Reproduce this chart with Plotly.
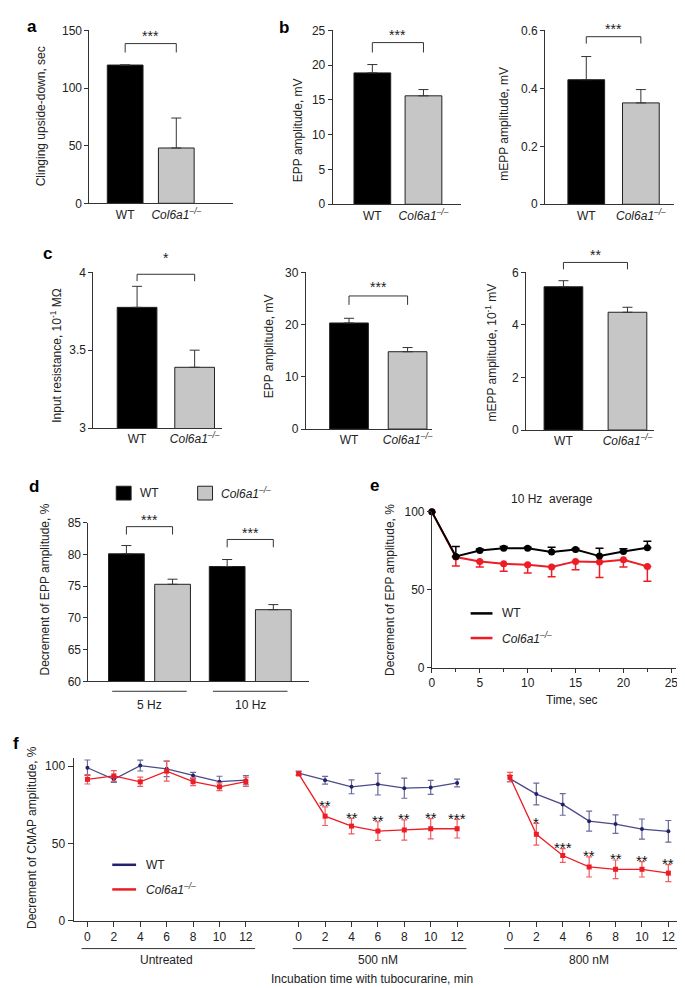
import plotly.graph_objects as go

# ---------------- data ----------------
groups = ["WT", "<i>Col6a1<sup>–/–</sup></i>"]

a_clinging = [120, 48]
a_clinging_err = [0, 26]

b_epp = [18.9, 15.6]
b_epp_err = [1.2, 0.9]
b_mepp = [0.43, 0.35]
b_mepp_err = [0.08, 0.046]

c_res = [3.775, 3.39]
c_res_err = [0.135, 0.11]
c_epp = [20.3, 14.8]
c_epp_err = [0.9, 0.8]
c_mepp = [5.45, 4.48]
c_mepp_err = [0.23, 0.19]

d_freq = ["5 Hz", "10 Hz"]
d_wt = [80.1, 78.1]
d_wt_err = [1.3, 1.1]
d_ko = [75.3, 71.3]
d_ko_err = [0.8, 0.8]

e_time = [0, 2.5, 5, 7.5, 10, 12.5, 15, 17.5, 20, 22.5]
e_wt = [100, 71.4, 75.2, 76.7, 76.7, 74.2, 75.8, 71.6, 74.6, 76.9]
e_wt_err = [0, 6.4, 1.0, 1.1, 0.6, 3.1, 0.6, 5.1, 1.7, 4.2]
e_ko = [100, 71.0, 68.2, 66.7, 66.1, 64.6, 68.2, 67.8, 69.3, 65.0]
e_ko_err = [0, 5.7, 3.6, 4.8, 5.3, 6.3, 5.3, 10.0, 4.7, 9.5]

f_minutes = [0, 2, 4, 6, 8, 10, 12]
f_conditions = ["Untreated", "500 nM", "800 nM"]
f_wt = [
    [99.0, 91.5, 100.4, 98.3, 94.0, 90.0, 91.0],
    [95.6, 90.9, 86.7, 88.4, 85.8, 86.3, 89.2],
    [92.0, 82.0, 75.3, 64.5, 62.6, 59.4, 57.9],
]
f_wt_err = [
    [5.0, 2.0, 3.5, 5.0, 2.0, 3.5, 3.0],
    [1.2, 2.5, 4.5, 7.0, 6.5, 4.5, 2.5],
    [2.0, 7.0, 7.0, 6.5, 6.0, 6.5, 7.0],
]
f_ko = [
    [91.5, 93.7, 89.9, 96.8, 90.0, 86.7, 90.0],
    [95.1, 67.7, 61.3, 58.1, 58.8, 59.6, 59.6],
    [93.0, 56.0, 42.3, 34.9, 33.4, 33.4, 30.9],
]
f_ko_err = [
    [3.0, 3.5, 3.0, 6.5, 2.5, 2.5, 3.0],
    [1.2, 6.0, 5.0, 6.0, 6.5, 6.5, 6.0],
    [3.0, 7.0, 4.5, 6.5, 6.0, 5.0, 5.5],
]
f_stars = [
    ["", "", "", "", "", "", ""],
    ["", "**", "**", "**", "**", "**", "***"],
    ["", "*", "***", "**", "**", "**", "**"],
]

# ---------------- layout helpers ----------------
W, H = 685, 988
FONT = "Liberation Sans, Arial, Helvetica, sans-serif"
AX = "#333333"
BLACK = "#000000"
GRAY = "#c6c6c6"
RED = "#ee1c24"
NAVY = "#4a4a88"
NAVY_DARK = "#22226a"
GAP = 16  # spacing between condition blocks in panel f


def px(x):
    return x / W


def py(y):
    return 1 - y / H


fig = go.Figure()
layout = dict(
    width=W, height=H, margin=dict(l=0, r=0, t=0, b=0),
    paper_bgcolor="white", plot_bgcolor="white",
    showlegend=False, barmode="overlay",
    font=dict(family=FONT, size=12, color="#222"),
)
shapes = []
annots = []


def ax_common(**kw):
    d = dict(showline=True, linecolor=AX, linewidth=1, showgrid=False,
             zeroline=False, ticks="outside", ticklen=4, tickcolor=AX,
             tickwidth=1, tickfont=dict(size=12, color="#222", family=FONT))
    d.update(kw)
    return d


def add_axes(n, box, xr, yr, xkw=None, ykw=None):
    l, r, t, b = box
    k = "" if n == 1 else str(n)
    xk = dict(domain=[px(l), px(r)], range=xr, anchor="y" + k)
    xk.update(xkw or {})
    yk = dict(domain=[py(b), py(t)], range=yr, anchor="x" + k)
    yk.update(ykw or {})
    layout["xaxis" + k] = ax_common(**xk)
    layout["yaxis" + k] = ax_common(**yk)
    return "x" + k, "y" + k


def ytitle(text, x, y):
    annots.append(dict(text=text, x=px(x), y=py(y), xref="paper", yref="paper",
                       textangle=-90, showarrow=False, xanchor="center",
                       yanchor="middle", font=dict(size=12, color="#222")))


def label(text, x, y, size=12, **kw):
    d = dict(text=text, x=px(x), y=py(y), xref="paper", yref="paper",
             showarrow=False, xanchor="center", yanchor="middle",
             font=dict(size=size, color="#222"))
    d.update(kw)
    annots.append(d)


def bracket(xref, x0, x1, ytop, ybot, stars, ystar):
    shapes.append(dict(type="path", xref=xref, yref="paper",
                       path=f"M {x0},{py(ybot)} L {x0},{py(ytop)} L {x1},{py(ytop)} L {x1},{py(ybot)}",
                       line=dict(color=AX, width=1)))
    annots.append(dict(text=stars, x=(x0 + x1) / 2, y=py(ystar), xref=xref, yref="paper",
                       showarrow=False, xanchor="center", yanchor="middle", yshift=-3,
                       font=dict(size=14, color="#222")))


def nz(arr):
    return [v if v else None for v in arr]


def errs(arr, up=True, color=AX, thick=1, width=5):
    zeros = [0 if v else None for v in arr]
    return dict(type="data", symmetric=False,
                array=nz(arr) if up else zeros, arrayminus=zeros if up else nz(arr),
                color=color, thickness=thick, width=width)


# ---------------- two-bar panels ----------------
bar_panels = [
    (1, (79, 224, 15.7, 191), (115, 166.5), 36, [0, 150], 50, a_clinging, a_clinging_err,
     "Clinging upside-down, sec", (30, 103), (29, 38), "***", 18),
    (2, (324, 453, 15.7, 192), (364, 415.5), 37, [0, 25], 5, b_epp, b_epp_err,
     "EPP amplitude, mV", (289, 117), (28, 38), "***", 17),
    (3, (538, 668, 15.7, 192), (579.5, 634.5), 37, [0, 0.6], 0.2, b_mepp, b_mepp_err,
     "mEPP amplitude, mV", (497, 110), (22, 29), "***", 11),
    (4, (83, 213, 261, 419), (127, 185), 40, [3, 4], 0.5, c_res, c_res_err,
     "Input resistance, 10<sup>-1</sup> MΩ", (45, 345), (263, 270), "*", 243),
    (5, (297, 424, 261, 420), (340.5, 399.5), 39, [0, 30], 10, c_epp, c_epp_err,
     "EPP amplitude, mV", (260, 336), (285, 294), "***", 273),
    (6, (519, 648, 261, 421), (556.5, 621), 39, [0, 6], 2, c_mepp, c_mepp_err,
     "mEPP amplitude, 10<sup>-1</sup> mV", (484, 342), (251, 258), "**", 240),
]

for (n, box, cen, bw, yr, dt, vals, err, title, tpos, br, stars, ystar) in bar_panels:
    l, r, t, b = box
    unit = cen[1] - cen[0]
    xr = [(l - cen[0]) / unit, (r - cen[0]) / unit]
    xref, yref = add_axes(n, box, xr, yr,
                          xkw=dict(ticks="", tickvals=[0, 1], ticktext=groups),
                          ykw=dict(dtick=dt, tick0=0))
    fig.add_trace(go.Bar(x=[0, 1], y=vals, width=bw / unit, xaxis=xref, yaxis=yref,
                         marker=dict(color=[BLACK, GRAY], line=dict(color="#222", width=1)),
                         error_y=errs(err)))
    ytitle(title, *tpos)
    bracket(xref, 0, 1, br[0], br[1], stars, ystar)

# ---------------- panel d ----------------
d_box = (78, 300, 515, 676)
d_cen = (139.5, 241)
d_unit = d_cen[1] - d_cen[0]
d_bw = 36 / d_unit
d_sep = 46.5 / d_unit
xr = [(d_box[0] - d_cen[0]) / d_unit, (d_box[1] - d_cen[0]) / d_unit]
xd, yd = add_axes(7, d_box, xr, [60, 85],
                  xkw=dict(ticks="", showticklabels=False, tickvals=[0, 1]),
                  ykw=dict(dtick=5, tick0=60))
fig.add_trace(go.Bar(x=[0, 1], y=d_wt, width=d_bw, offset=-d_sep / 2 - d_bw / 2,
                     xaxis=xd, yaxis=yd, marker=dict(color=BLACK, line=dict(color="#222", width=1)),
                     error_y=errs(d_wt_err)))
fig.add_trace(go.Bar(x=[0, 1], y=d_ko, width=d_bw, offset=d_sep / 2 - d_bw / 2,
                     xaxis=xd, yaxis=yd, marker=dict(color=GRAY, line=dict(color="#222", width=1)),
                     error_y=errs(d_ko_err)))
ytitle("Decrement of EPP amplitude, %", 34, 583)
bracket(xd, -d_sep / 2, d_sep / 2, 519, 527, "***", 509)
bracket(xd, 1 - d_sep / 2, 1 + d_sep / 2, 532, 540, "***", 522)
for i, f in enumerate(d_freq):
    shapes.append(dict(type="line", xref=xd, yref="paper", x0=i - 0.37, x1=i + 0.37,
                       y0=py(686), y1=py(686), line=dict(color=AX, width=1)))
    annots.append(dict(text=f, x=i, y=py(700), xref=xd, yref="paper", showarrow=False,
                       xanchor="center", yanchor="middle", font=dict(size=12, color="#222")))
# legend d
shapes.append(dict(type="rect", xref="paper", yref="paper", x0=px(106), x1=px(121),
                   y0=py(492), y1=py(478), fillcolor=BLACK, line=dict(color="#222", width=1)))
shapes.append(dict(type="rect", xref="paper", yref="paper", x0=px(188), x1=px(203),
                   y0=py(492), y1=py(478), fillcolor=GRAY, line=dict(color="#222", width=1)))
label("WT", 128, 485, xanchor="left")
label(groups[1], 210, 485, xanchor="left")

# ---------------- panel e ----------------
xe, ye = add_axes(8, (424, 670, 504, 662), [0, 25.5], [0, 100],
                  xkw=dict(dtick=5, tick0=0, minor=dict(dtick=2.5, ticks="outside", ticklen=3, tickcolor=AX)),
                  ykw=dict(dtick=50, tick0=0))
fig.add_trace(go.Scatter(x=e_time, y=e_ko, mode="lines+markers", xaxis=xe, yaxis=ye,
                         line=dict(color=RED, width=2), marker=dict(color=RED, size=7),
                         error_y=errs(e_ko_err, up=False, color=RED, thick=1.5, width=4),
                         cliponaxis=False))
fig.add_trace(go.Scatter(x=e_time, y=e_wt, mode="lines+markers", xaxis=xe, yaxis=ye,
                         line=dict(color=BLACK, width=2), marker=dict(color=BLACK, size=7),
                         error_y=errs(e_wt_err, up=True, color=BLACK, thick=1.5, width=4),
                         cliponaxis=False))
ytitle("Decrement of EPP amplitude, %", 382, 583)
label("10 Hz  average", 545, 491)
label("Time, sec", 565, 695)
shapes.append(dict(type="line", xref="paper", yref="paper", x0=px(463), x1=px(485),
                   y0=py(607), y1=py(607), line=dict(color=BLACK, width=2.5)))
shapes.append(dict(type="line", xref="paper", yref="paper", x0=px(463), x1=px(485),
                   y0=py(632), y1=py(632), line=dict(color=RED, width=2.5)))
label("WT", 493, 607, xanchor="left")
label(groups[1], 493, 632, xanchor="left")

# ---------------- panel f ----------------
f_tickvals = [m + GAP * i for i in range(len(f_conditions)) for m in f_minutes]
f_ticktext = [str(m) for i in range(len(f_conditions)) for m in f_minutes]
f_unit = 13.3
f_ytop = 105
xf, yf = add_axes(9, (63, 685, 919 - 1.57 * f_ytop, 919), [-14 / f_unit, 608 / f_unit], [0, f_ytop],
                  xkw=dict(tickvals=f_tickvals, ticktext=f_ticktext, ticklen=5),
                  ykw=dict(tickvals=[0, 50, 100], ticklen=5))
for i, cond in enumerate(f_conditions):
    xs = [m + GAP * i for m in f_minutes]
    fig.add_trace(go.Scatter(x=xs, y=f_wt[i], mode="lines+markers", xaxis=xf, yaxis=yf,
                             line=dict(color=NAVY, width=1.3),
                             marker=dict(color=NAVY_DARK, size=4, symbol="circle"),
                             error_y=dict(type="data", array=f_wt_err[i], color="#6a6a9c",
                                          thickness=1.2, width=3),
                             cliponaxis=False))
    fig.add_trace(go.Scatter(x=xs, y=f_ko[i], mode="lines+markers", xaxis=xf, yaxis=yf,
                             line=dict(color=RED, width=1.3),
                             marker=dict(color=RED, size=5, symbol="square"),
                             error_y=dict(type="data", array=f_ko_err[i], color="#f05a60",
                                          thickness=1.2, width=3),
                             cliponaxis=False))
    for m, v, e, s in zip(xs, f_ko[i], f_ko_err[i], f_stars[i]):
        if s:
            annots.append(dict(text=s, x=m, y=v + e, xref=xf, yref=yf, showarrow=False,
                               xanchor="center", yanchor="middle", yshift=1,
                               font=dict(size=15, color="#111")))
    shapes.append(dict(type="line", xref=xf, yref="paper", x0=GAP * i - 0.45, x1=GAP * i + 12.7,
                       y0=py(947), y1=py(947), line=dict(color=AX, width=1)))
    annots.append(dict(text=cond, x=GAP * i + 6, y=py(959), xref=xf, yref="paper",
                       showarrow=False, xanchor="center", yanchor="middle",
                       font=dict(size=12, color="#222")))
ytitle("Decrement of CMAP amplitude, %", 21, 834)
label("Incubation time with tubocurarine, min", 364, 978)
shapes.append(dict(type="line", xref="paper", yref="paper", x0=px(102), x1=px(126),
                   y0=py(862), y1=py(862), line=dict(color=NAVY_DARK, width=2.5)))
shapes.append(dict(type="line", xref="paper", yref="paper", x0=px(102), x1=px(126),
                   y0=py(887), y1=py(887), line=dict(color=RED, width=2.5)))
label("WT", 134, 862, xanchor="left")
label(groups[1], 134, 887, xanchor="left")

# ---------------- panel letters ----------------
for t, x, y in [("a", 21, 12), ("b", 275, 13), ("c", 37, 242), ("d", 23, 478),
                ("e", 366, 477), ("f", 5, 739)]:
    label(f"<b>{t}</b>", x, y, size=17, font=dict(size=17, color="#000"))

layout["shapes"] = shapes
layout["annotations"] = annots
fig.update_layout(**layout)
fig.write_html("out.html")
